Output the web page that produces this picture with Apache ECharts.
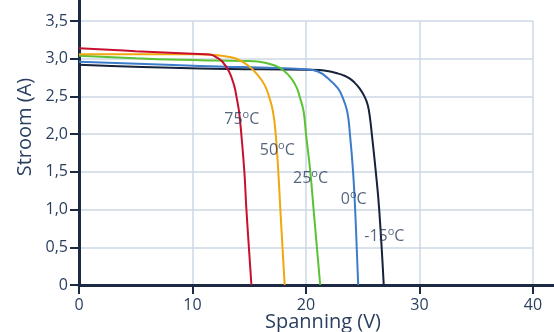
<!DOCTYPE html>
<html>
<head>
<meta charset="utf-8">
<script src="https://cdn.jsdelivr.net/npm/echarts@6/dist/echarts.min.js"></script>
<style>
  html, body { margin: 0; padding: 0; background: #fff; }
  #chart { width: 554px; height: 332px; }
</style>
</head>
<body>
<div id="chart"></div>
<script>
'use strict'

// I-V curves, [voltage, current]
var curve75 = [[0,3.14],[5,3.10],[10,3.065],[11.52,3.056],[12.2,3.01],[12.64,2.96],[13.22,2.83],[13.66,2.65],[13.87,2.5],[14.1,2.3],[14.3,2.0],[14.57,1.5],[14.75,1.0],[15.19,0]];
var curve50 = [[0,3.06],[5,3.06],[10,3.06],[12.0,3.05],[13.0,3.03],[13.87,3.0],[14.9,2.91],[15.77,2.78],[16.36,2.65],[16.74,2.5],[17.09,2.3],[17.33,2.0],[17.56,1.5],[17.74,1.0],[18.12,0]];
var curve25 = [[0,3.04],[5,3.005],[8.9,2.985],[12,2.975],[14.5,2.97],[15.92,2.96],[17.24,2.91],[17.97,2.85],[18.7,2.74],[19.2,2.61],[19.44,2.5],[19.79,2.3],[20.0,2.0],[20.38,1.5],[20.67,1.0],[21.25,0]];
var curve0 = [[0,2.96],[10.6,2.905],[20,2.86],[21.05,2.83],[21.93,2.74],[22.8,2.61],[23.19,2.5],[23.63,2.3],[23.87,2.0],[24.15,1.5],[24.33,1.0],[24.6,0]];
var curveM15 = [[0,2.92],[10.6,2.87],[20,2.855],[21.2,2.85],[22.0,2.835],[22.66,2.81],[23.3,2.78],[23.83,2.74],[24.3,2.68],[24.7,2.61],[25.15,2.5],[25.45,2.38],[25.65,2.2],[25.8,2.0],[26.15,1.5],[26.45,1.0],[26.85,0]];

var seriesNames = ['75', '50', '25', '0', '-15'];
var seriesColors = ['#c8102e', '#f0a80e', '#5bc236', '#3d7cc9', '#16223a'];

// label anchor points for the temperature annotations
var labelX = [14.34, 17.47, 20.4, 24.2, 26.9];
var labelY = [2.20, 1.79, 1.415, 1.14, 0.64];

var textColor = '#2a3f5f';
var axisColor = '#1c2a44';
var gridColor = '#cdd7e5';
var fontFamily = '"Open Sans", "Noto Sans", sans-serif';

var myChart = echarts.init(document.getElementById('chart'));

var curves = [curve75, curve50, curve25, curve0, curveM15];
var series = [];
for (var i = 0; i < curves.length; i++) {
    series.push({
        name: seriesNames[i],
        type: 'line',
        xAxisIndex: 0,
        yAxisIndex: 0,
        data: curves[i],
        smooth: 0.45,
        symbol: 'none',
        lineStyle: { color: seriesColors[i], width: 2 },
        z: 5 - i
    });
}

var labelData = [];
for (var j = 0; j < seriesNames.length; j++) {
    labelData.push({ value: [labelX[j], labelY[j]], name: seriesNames[j] });
}
series.push({
    type: 'scatter',
    xAxisIndex: 0,
    yAxisIndex: 0,
    data: labelData,
    symbolSize: 0,
    silent: true,
    z: 10,
    label: {
        show: true,
        position: 'inside',
        formatter: function (p) { return '{n|' + p.name + '}{s|o}{n|C}'; },
        rich: {
            n: { fontSize: 16, color: textColor, fontFamily: fontFamily, lineHeight: 20 },
            s: { fontSize: 11, color: textColor, fontFamily: fontFamily, verticalAlign: 'top', lineHeight: 12, padding: [0, 0, 8, 0] }
        }
    }
});

var option = {
    backgroundColor: '#fff',
    animation: false,
    grid: [
        { left: 79, right: 21, top: 21, bottom: 47 },
        { left: 79, right: 0, top: 0, bottom: 47 }
    ],
    xAxis: [
        {
            type: 'value', gridIndex: 0, min: 0, max: 40, interval: 10,
            axisLine: { show: false },
            axisTick: { show: true, length: 9, lineStyle: { color: axisColor, width: 2 } },
            axisLabel: { color: textColor, fontSize: 16, fontFamily: fontFamily, margin: 12 },
            splitLine: { show: true, lineStyle: { color: gridColor, width: 1.5 } }
        },
        {
            type: 'value', gridIndex: 1, min: 0, max: 1,
            axisLine: { show: true, onZero: false, lineStyle: { color: axisColor, width: 3 } },
            axisTick: { show: false }, axisLabel: { show: false }, splitLine: { show: false }
        }
    ],
    yAxis: [
        {
            type: 'value', gridIndex: 0, min: 0, max: 3.5, interval: 0.5,
            axisLine: { show: false },
            axisTick: { show: true, length: 9, lineStyle: { color: axisColor, width: 2 } },
            axisLabel: {
                color: textColor, fontSize: 16, fontFamily: fontFamily, margin: 11,
                formatter: function (v) { return v === 0 ? '0' : v.toFixed(1).replace('.', ','); }
            },
            splitLine: { show: true, lineStyle: { color: gridColor, width: 1.5 } }
        },
        {
            type: 'value', gridIndex: 1, min: 0, max: 1,
            axisLine: { show: true, onZero: false, lineStyle: { color: axisColor, width: 3 } },
            axisTick: { show: false }, axisLabel: { show: false }, splitLine: { show: false }
        }
    ],
    graphic: [
        {
            type: 'text', x: 25, y: 127, rotation: Math.PI / 2,
            style: { text: 'Stroom (A)', fill: textColor, font: '20px ' + fontFamily, textAlign: 'center', textVerticalAlign: 'middle' }
        },
        {
            type: 'text', x: 323, y: 322,
            style: { text: 'Spanning (V)', fill: textColor, font: '20px ' + fontFamily, textAlign: 'center', textVerticalAlign: 'middle' }
        }
    ],
    series: series
};
myChart.setOption(option);
</script>
</body>
</html>
